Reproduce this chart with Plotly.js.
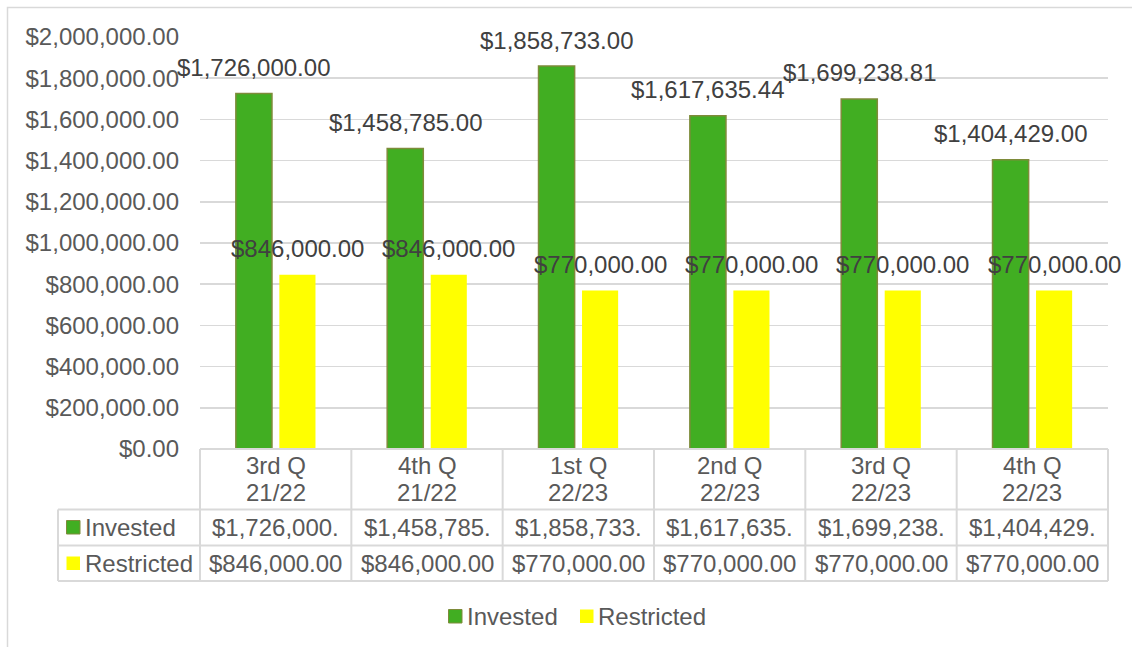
<!DOCTYPE html>
<html>
<head>
<meta charset="utf-8">
<script src="https://cdn.plot.ly/plotly-3.0.1.min.js"></script>
<style>html,body{margin:0;padding:0;background:#fff;}#chart{width:1132px;height:647px;}</style>
</head>
<body>
<div id="chart"></div>
<script>
const quarters = ['3rd Q', '4th Q', '1st Q', '2nd Q', '3rd Q', '4th Q'];
const years = ['21/22', '21/22', '22/23', '22/23', '22/23', '22/23'];
const invested = [1726000, 1458785, 1858733, 1617635.44, 1699238.81, 1404429];
const restricted = [846000, 846000, 770000, 770000, 770000, 770000];
const seriesNames = ['Invested', 'Restricted'];

const categories = quarters.map((q, i) => q + ' ' + years[i]);
const GREEN = '#41AE22', GREEN_LINE = '#7E8B3A', YELLOW = '#FFFF00';
const FONT = 'Liberation Sans, Arial, sans-serif';
const FS = 24;

const W = 1132, H = 647, L = 200, R = 24, T = 37, B = 198;
const PW = W - L - R, PH = H - T - B;
const px = x => (x - L) / PW;
const py = y => (H - B - y) / PH;

const fmt = v => '$' + v.toLocaleString('en-US', {minimumFractionDigits: 2, maximumFractionDigits: 2});
const cellText = v => { const s = fmt(v); return s.length > 11 ? s.slice(0, 11) : s; };

const traces = [
  {type: 'bar', name: seriesNames[0], x: categories, y: invested,
   marker: {color: GREEN, line: {color: GREEN_LINE, width: 1.5}}, hoverinfo: 'y'},
  {type: 'bar', name: seriesNames[1], x: categories, y: restricted,
   marker: {color: YELLOW, line: {width: 0}}, hoverinfo: 'y'}
];

const annotations = [];
const shapes = [];
const OFF = 21.75;
// data labels
categories.forEach((c, i) => {
  annotations.push({x: c, y: invested[i], xref: 'x', yref: 'y', text: fmt(invested[i]), showarrow: false,
    xshift: -OFF, yshift: 26, xanchor: 'center', yanchor: 'middle', font: {family: FONT, size: FS, color: '#404040'}});
  annotations.push({x: c, y: restricted[i], xref: 'x', yref: 'y', text: fmt(restricted[i]), showarrow: false,
    xshift: OFF, yshift: 26, xanchor: 'center', yanchor: 'middle', font: {family: FONT, size: FS, color: '#404040'}});
});

// table
const lineCol = '#D9D9D9';
const rowsY = [449, 509.5, 545.5, 581];
const colW = PW / categories.length;
function hline(x0, x1, y) {
  shapes.push({type: 'line', xref: 'paper', yref: 'paper', x0: px(x0), x1: px(x1), y0: py(y), y1: py(y), line: {color: lineCol, width: 2}});
}
function vline(x, y0, y1) {
  shapes.push({type: 'line', xref: 'paper', yref: 'paper', x0: px(x), x1: px(x), y0: py(y0), y1: py(y1), line: {color: lineCol, width: 2}});
}
hline(L, L + PW, rowsY[0]);
hline(58, L + PW, rowsY[1]);
hline(58, L + PW, rowsY[2]);
hline(58, L + PW, rowsY[3]);
vline(58, rowsY[1], rowsY[3]);
for (let k = 0; k <= categories.length; k++) vline(L + k * colW, rowsY[0], rowsY[3]);

const txtFont = {family: FONT, size: FS, color: '#595959'};
function cell(x, y, text, anchor) {
  annotations.push({x: x, y: y, xref: 'paper', yref: 'paper', text: text, showarrow: false,
    font: txtFont, xanchor: anchor || 'center', yanchor: 'middle'});
}
categories.forEach((c, i) => {
  const cx = px(L + (i + 0.5) * colW);
  cell(cx, py(465.5), quarters[i]);
  cell(cx, py(492), years[i]);
  cell(cx, py(527), cellText(invested[i]));
  cell(cx, py(563), cellText(restricted[i]));
});
// row labels
function key(x0, y0, fill, border) {
  shapes.push({type: 'rect', xref: 'paper', yref: 'paper', x0: px(x0), x1: px(x0 + 13.5), y0: py(y0), y1: py(y0 + 13.5),
    fillcolor: fill, line: {color: border || fill, width: border ? 1 : 0}});
}
key(66.5, 520.5, GREEN, GREEN_LINE);
key(66.5, 556.5, YELLOW, null);
cell(px(83), py(527), seriesNames[0], 'left');
cell(px(83), py(563), seriesNames[1], 'left');

// legend
key(448.5, 609.5, GREEN, GREEN_LINE);
key(580, 609.5, YELLOW, null);
cell(px(465), py(616.5), seriesNames[0], 'left');
cell(px(596), py(616.5), seriesNames[1], 'left');

// outer chart border
shapes.push({type: 'rect', xref: 'paper', yref: 'paper', x0: px(7.5), x1: px(1145), y0: py(7.5), y1: py(700),
  line: {color: lineCol, width: 1.5}, fillcolor: 'rgba(0,0,0,0)', layer: 'below'});

const layout = {
  width: W, height: H,
  margin: {l: L, r: R, t: T, b: B, pad: 0},
  paper_bgcolor: '#FFFFFF', plot_bgcolor: '#FFFFFF',
  barmode: 'group', bargap: 0.425, bargroupgap: 0.17,
  showlegend: false,
  font: {family: FONT, size: FS, color: '#595959'},
  xaxis: {type: 'category', range: [-0.5, categories.length - 0.5], autorange: false, showticklabels: false,
    showgrid: false, zeroline: false, showline: false, ticks: '', fixedrange: true},
  yaxis: {range: [0, 2000000], autorange: false, dtick: 200000, tickformat: '$,.2f', showgrid: true, gridcolor: lineCol, gridwidth: 1.5,
    zeroline: false, showline: false, ticks: '', ticklabelstandoff: 20,
    tickfont: {family: FONT, size: FS, color: '#595959'}, fixedrange: true},
  annotations: annotations,
  shapes: shapes
};

Plotly.newPlot('chart', traces, layout, {displayModeBar: false, staticPlot: true});
</script>
</body>
</html>
